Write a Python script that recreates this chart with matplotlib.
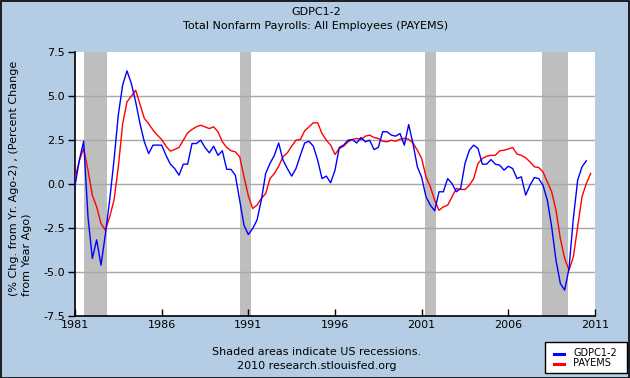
import numpy as np
import matplotlib
matplotlib.use("Agg")
import matplotlib.pyplot as plt
from matplotlib.lines import Line2D
from matplotlib.patches import Rectangle

# ---------------- data ----------------
title_line1 = "GDPC1-2"
title_line2 = "Total Nonfarm Payrolls: All Employees (PAYEMS)"
ylabel_text = "(% Chg. from Yr. Ago-2) , (Percent Change\nfrom Year Ago)"
note1 = "Shaded areas indicate US recessions."
note2 = "2010 research.stlouisfed.org"
series_names = ["GDPC1-2", "PAYEMS"]

x_ticks = [1981, 1986, 1991, 1996, 2001, 2006, 2011]
y_ticks = [7.5, 5.0, 2.5, 0.0, -2.5, -5.0, -7.5]
y_ticklabels = ["7.5", "5.0", "2.5", "0.0", "-2.5", "-5.0", "-7.5"]

recession_starts = [1981.5, 1990.5, 2001.17, 2007.92]
recession_ends = [1982.83, 1991.17, 2001.83, 2009.42]

# quarterly values, starting 1981 Q1
gdp_start = 1981.0
gdp_values = [
    -0.15, 1.33, 2.40, -1.90,    # 1981
    -4.26, -3.20, -4.64, -2.90,  # 1982
    -0.95, 1.33, 3.90, 5.60,     # 1983
    6.40, 5.68, 4.64, 3.40,      # 1984
    2.37, 1.70, 2.18, 2.18,      # 1985
    2.18, 1.60, 1.10, 0.85,      # 1986
    0.47, 1.10, 1.10, 2.27,      # 1987
    2.27, 2.46, 2.05, 1.74,      # 1988
    2.12, 1.60, 1.86, 0.81,      # 1989
    0.80, 0.47, -0.95, -2.37,    # 1990
    -2.90, -2.56, -2.08, -0.95,  # 1991
    0.57, 1.14, 1.60, 2.30,      # 1992
    1.33, 0.85, 0.42, 0.85,      # 1993
    1.60, 2.30, 2.40, 2.12,      # 1994
    1.33, 0.28, 0.42, 0.04,      # 1995
    0.76, 2.05, 2.18, 2.46,      # 1996
    2.50, 2.30, 2.61, 2.37,      # 1997
    2.46, 1.93, 2.05, 2.94,      # 1998
    2.94, 2.75, 2.69, 2.84,      # 1999
    2.18, 3.35, 2.27, 0.95,      # 2000
    0.35, -0.76, -1.23, -1.55,   # 2001
    -0.47, -0.47, 0.28, 0.00,    # 2002
    -0.47, -0.28, 1.14, 1.89,    # 2003
    2.18, 1.99, 1.10, 1.10,      # 2004
    1.36, 1.10, 1.04, 0.76,      # 2005
    0.98, 0.85, 0.28, 0.38,      # 2006
    -0.66, -0.10, 0.34, 0.28,    # 2007
    -0.10, -0.95, -2.46, -4.36,  # 2008
    -5.68, -6.06, -4.83, -1.99,  # 2009
    0.19, 0.95, 1.29,            # 2010
]

payems_start = 1981.0
payems_values = [
    0.28, 1.30, 2.00, 0.76,      # 1981
    -0.66, -1.33, -2.27, -2.65,  # 1982
    -1.90, -0.95, 0.95, 3.40,    # 1983
    4.64, 4.96, 5.30, 4.50,      # 1984
    3.70, 3.40, 3.03, 2.75,      # 1985
    2.50, 2.12, 1.84, 1.93,      # 1986
    2.05, 2.46, 2.88, 3.07,      # 1987
    3.22, 3.31, 3.22, 3.12,      # 1988
    3.22, 2.94, 2.37, 2.05,      # 1989
    1.86, 1.80, 1.52, 0.38,      # 1990
    -0.70, -1.42, -1.23, -0.85,  # 1991
    -0.57, 0.28, 0.57, 0.98,     # 1992
    1.52, 1.74, 2.12, 2.46,      # 1993
    2.50, 2.99, 3.22, 3.45,      # 1994
    3.45, 2.84, 2.46, 2.18,      # 1995
    1.65, 1.99, 2.12, 2.37,      # 1996
    2.50, 2.56, 2.50, 2.69,      # 1997
    2.75, 2.61, 2.56, 2.40,      # 1998
    2.37, 2.46, 2.40, 2.52,      # 1999
    2.56, 2.52, 2.30, 1.89,      # 2000
    1.42, 0.38, -0.19, -0.95,    # 2001
    -1.52, -1.33, -1.23, -0.76,  # 2002
    -0.28, -0.34, -0.34, -0.10,  # 2003
    0.28, 1.14, 1.42, 1.55,      # 2004
    1.60, 1.60, 1.86, 1.89,      # 2005
    1.96, 2.05, 1.67, 1.60,      # 2006
    1.46, 1.23, 0.95, 0.91,      # 2007
    0.66, 0.09, -0.47, -1.52,    # 2008
    -3.13, -4.26, -4.92, -4.17,  # 2009
    -2.46, -0.76, 0.00, 0.57,    # 2010
]

gdp_x = gdp_start + 0.25 * np.arange(len(gdp_values))
payems_x = payems_start + 0.25 * np.arange(len(payems_values))

# ---------------- style ----------------
BG = "#B4CDE5"
REC = "#BEBEBE"
GRID = "#A8A8A8"
BLUE = "#0000FF"
RED = "#FF0000"
FS = 8
plt.rcParams["font.family"] = ["DejaVu Sans"]

W, H = 630, 378
fig = plt.figure(figsize=(W / 100, H / 100), dpi=100, facecolor=BG)

ax_l, ax_r, ax_t, ax_b = 75, 595, 51.5, 315.5
ax = fig.add_axes([ax_l / W, (H - ax_b) / H, (ax_r - ax_l) / W, (ax_b - ax_t) / H])
ax.set_facecolor("white")

for s, e in zip(recession_starts, recession_ends):
    ax.axvspan(s, e, color=REC, lw=0, zorder=1)

for yv in y_ticks[1:-1]:
    ax.axhline(yv, color=GRID, lw=1.0, zorder=2)

ax.plot(gdp_x, gdp_values, color=BLUE, lw=1.0, zorder=4)
ax.plot(payems_x, payems_values, color=RED, lw=1.0, zorder=3)

ax.set_xlim(1981, 2011)
ax.set_ylim(-7.5, 7.5)
ax.set_xticks(x_ticks)
ax.set_xticklabels([str(t) for t in x_ticks])
ax.set_yticks(y_ticks)
ax.set_yticklabels(y_ticklabels)

for sp in ["top", "right"]:
    ax.spines[sp].set_visible(False)
for sp in ["left", "bottom"]:
    ax.spines[sp].set_color("black")
    ax.spines[sp].set_linewidth(1.2)

ax.tick_params(axis="x", direction="in", length=5, width=1, labelsize=FS, pad=3, colors="black")
ax.tick_params(axis="y", direction="out", length=5, width=1, labelsize=FS, pad=2, colors="black")

# titles
fig.text(316 / W, 1 - 12 / H, title_line1, ha="center", va="center", fontsize=FS)
fig.text(316 / W, 1 - 26 / H, title_line2, ha="center", va="center", fontsize=FS)

# y label
fig.text(20.5 / W, 1 - 178 / H, ylabel_text, ha="center", va="center", rotation=90,
         fontsize=FS, multialignment="left", linespacing=1.3)

# notes
fig.text(317 / W, 1 - 352 / H, note1, ha="center", va="center", fontsize=FS)
fig.text(317 / W, 1 - 366 / H, note2, ha="center", va="center", fontsize=FS)

# legend (drawn as a box in figure pixels)
fig.patches.append(Rectangle((545 / W, 1 - 373 / H), 82 / W, 31 / H,
                             transform=fig.transFigure, facecolor="white",
                             edgecolor="black", lw=1.0, zorder=5))
for name, col, yy in zip(series_names, [BLUE, RED], [353.5, 363.5]):
    fig.lines.append(Line2D([554 / W, 564 / W], [1 - yy / H, 1 - yy / H],
                            transform=fig.transFigure, color=col, lw=2.2, zorder=6))
    fig.text(573 / W, 1 - yy / H, name, ha="left", va="center", fontsize=7, zorder=6)

# figure border
fig.patches.append(Rectangle((0.5 / W, 0.5 / H), 1 - 1.5 / W, 1 - 1.5 / H,
                             transform=fig.transFigure, fill=False,
                             edgecolor="black", lw=1.2))

fig.savefig("out.png", dpi=100, facecolor=BG)
